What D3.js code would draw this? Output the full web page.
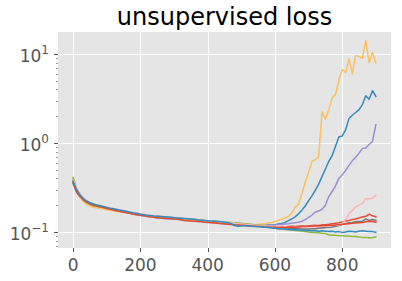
<!DOCTYPE html>
<html>
<head>
<meta charset="utf-8">
<script src="https://cdn.jsdelivr.net/npm/d3@7"></script>
<style>
  html, body { margin: 0; padding: 0; background: #fff; }
  svg { display: block; font-family: "DejaVu Sans", sans-serif; }
</style>
</head>
<body>
<div id="chart"></div>
<script>
// training step at which each value was logged
const steps = d3.range(0, 910, 10);

// unsupervised loss per run, one value per step
const red1 = [
  0.37, 0.29, 0.255, 0.232, 0.218, 0.208, 0.202, 0.197, 0.193, 0.189,
  0.185, 0.181, 0.178, 0.174, 0.171, 0.168, 0.166, 0.163, 0.160, 0.158,
  0.155, 0.153, 0.152, 0.150, 0.149, 0.148, 0.146, 0.145, 0.144, 0.143,
  0.142, 0.141, 0.139, 0.138, 0.137, 0.136, 0.135, 0.134, 0.132, 0.131,
  0.130, 0.129, 0.128, 0.127, 0.126, 0.126, 0.125, 0.124, 0.123, 0.122,
  0.121, 0.121, 0.120, 0.119, 0.118, 0.118, 0.117, 0.116, 0.116, 0.115,
  0.115, 0.114, 0.115, 0.114, 0.115, 0.116, 0.115, 0.116, 0.117, 0.116,
  0.117, 0.118, 0.119, 0.118, 0.120, 0.121, 0.122, 0.124, 0.125, 0.127,
  0.130, 0.133, 0.135, 0.138, 0.140, 0.144, 0.147, 0.150, 0.159, 0.152,
  0.148
];
const blue1 = [
  0.36, 0.29, 0.258, 0.236, 0.222, 0.212, 0.205, 0.200, 0.196, 0.192,
  0.188, 0.184, 0.181, 0.178, 0.175, 0.172, 0.169, 0.166, 0.163, 0.160,
  0.157, 0.155, 0.153, 0.152, 0.151, 0.150, 0.149, 0.147, 0.146, 0.145,
  0.144, 0.143, 0.142, 0.141, 0.140, 0.139, 0.137, 0.136, 0.135, 0.134,
  0.133, 0.132, 0.131, 0.130, 0.129, 0.128, 0.127, 0.126, 0.125, 0.124,
  0.123, 0.122, 0.121, 0.121, 0.120, 0.120, 0.119, 0.119, 0.120, 0.120,
  0.121, 0.123, 0.125, 0.128, 0.134, 0.140, 0.148, 0.160, 0.176, 0.196,
  0.225, 0.255, 0.295, 0.345, 0.42, 0.51, 0.62, 0.72, 0.92, 1.17,
  1.20, 1.40, 1.88, 2.05, 2.20, 2.37, 2.70, 3.40, 3.10, 3.87,
  3.34
];
const purple = [
  0.39, 0.30, 0.255, 0.228, 0.212, 0.202, 0.196, 0.192, 0.189, 0.186,
  0.183, 0.180, 0.177, 0.174, 0.171, 0.168, 0.165, 0.162, 0.158, 0.155,
  0.153, 0.151, 0.149, 0.147, 0.146, 0.144, 0.143, 0.142, 0.141, 0.141,
  0.140, 0.139, 0.138, 0.137, 0.136, 0.135, 0.134, 0.133, 0.132, 0.131,
  0.130, 0.129, 0.128, 0.127, 0.126, 0.125, 0.124, 0.123, 0.122, 0.121,
  0.121, 0.120, 0.119, 0.119, 0.118, 0.118, 0.117, 0.117, 0.118, 0.119,
  0.120, 0.121, 0.122, 0.123, 0.124, 0.126, 0.127, 0.129, 0.132, 0.138,
  0.146, 0.155, 0.168, 0.172, 0.180, 0.200, 0.250, 0.285, 0.33, 0.40,
  0.44, 0.49, 0.56, 0.63, 0.69, 0.77, 0.87, 0.88, 0.96, 1.04,
  1.61
];
const gray = [
  0.38, 0.30, 0.26, 0.236, 0.221, 0.211, 0.204, 0.199, 0.195, 0.191,
  0.187, 0.183, 0.180, 0.177, 0.174, 0.171, 0.168, 0.165, 0.162, 0.159,
  0.157, 0.155, 0.153, 0.151, 0.150, 0.149, 0.148, 0.146, 0.145, 0.144,
  0.143, 0.142, 0.141, 0.140, 0.139, 0.138, 0.136, 0.135, 0.134, 0.133,
  0.132, 0.131, 0.130, 0.129, 0.128, 0.127, 0.126, 0.125, 0.124, 0.123,
  0.122, 0.121, 0.120, 0.120, 0.119, 0.118, 0.117, 0.116, 0.115, 0.114,
  0.113, 0.112, 0.112, 0.111, 0.110, 0.110, 0.109, 0.109, 0.108, 0.108,
  0.108, 0.109, 0.109, 0.110, 0.111, 0.112, 0.113, 0.114, 0.116, 0.118,
  0.121, 0.124, 0.127, 0.128, 0.130, 0.131, 0.132, 0.140, 0.135, 0.138,
  0.135
];
const yellow = [
  0.40, 0.29, 0.245, 0.220, 0.205, 0.195, 0.190, 0.187, 0.184, 0.181,
  0.178, 0.176, 0.173, 0.171, 0.169, 0.167, 0.164, 0.162, 0.159, 0.157,
  0.155, 0.153, 0.151, 0.149, 0.147, 0.146, 0.145, 0.144, 0.143, 0.142,
  0.141, 0.140, 0.139, 0.138, 0.137, 0.136, 0.135, 0.134, 0.133, 0.132,
  0.131, 0.130, 0.129, 0.128, 0.127, 0.126, 0.126, 0.125, 0.124, 0.124,
  0.123, 0.122, 0.122, 0.121, 0.121, 0.122, 0.123, 0.124, 0.126, 0.128,
  0.131, 0.135, 0.139, 0.144, 0.150, 0.162, 0.190, 0.205, 0.27, 0.36,
  0.47, 0.62, 0.65, 0.70, 2.25, 1.85, 2.37, 3.2, 3.5, 5.1,
  6.7, 6.2, 8.8, 6.0, 9.6, 9.4, 8.9, 14.1, 8.0, 10.4,
  7.9
];
const green = [
  0.41, 0.31, 0.26, 0.232, 0.215, 0.205, 0.199, 0.195, 0.191, 0.188,
  0.185, 0.182, 0.179, 0.176, 0.173, 0.170, 0.167, 0.164, 0.161, 0.158,
  0.156, 0.154, 0.152, 0.151, 0.150, 0.149, 0.148, 0.147, 0.146, 0.145,
  0.144, 0.143, 0.142, 0.141, 0.140, 0.139, 0.138, 0.137, 0.136, 0.135,
  0.134, 0.133, 0.132, 0.131, 0.130, 0.129, 0.129, 0.128, 0.127, 0.126,
  0.125, 0.124, 0.123, 0.122, 0.121, 0.120, 0.118, 0.116, 0.114, 0.112,
  0.110, 0.109, 0.108, 0.107, 0.106, 0.105, 0.104, 0.103, 0.102, 0.101,
  0.100, 0.099, 0.099, 0.098, 0.097, 0.096, 0.093, 0.092, 0.092, 0.091,
  0.091, 0.090, 0.090, 0.089, 0.089, 0.088, 0.087, 0.087, 0.086, 0.086,
  0.088
];
const pink = [
  0.38, 0.31, 0.27, 0.243, 0.226, 0.214, 0.207, 0.202, 0.198, 0.194,
  0.190, 0.186, 0.183, 0.180, 0.177, 0.174, 0.171, 0.168, 0.165, 0.162,
  0.160, 0.158, 0.156, 0.154, 0.153, 0.151, 0.150, 0.149, 0.148, 0.147,
  0.146, 0.145, 0.144, 0.143, 0.142, 0.141, 0.139, 0.138, 0.137, 0.135,
  0.134, 0.133, 0.131, 0.130, 0.129, 0.128, 0.127, 0.126, 0.125, 0.124,
  0.123, 0.122, 0.121, 0.120, 0.119, 0.118, 0.117, 0.117, 0.116, 0.116,
  0.115, 0.115, 0.114, 0.114, 0.113, 0.113, 0.114, 0.113, 0.114, 0.115,
  0.114, 0.115, 0.116, 0.115, 0.116, 0.117, 0.117, 0.118, 0.119, 0.120,
  0.123, 0.138, 0.160, 0.175, 0.192, 0.200, 0.210, 0.236, 0.237, 0.240,
  0.258
];
const red2 = [
  0.35, 0.28, 0.25, 0.230, 0.217, 0.207, 0.201, 0.196, 0.192, 0.188,
  0.184, 0.180, 0.176, 0.173, 0.170, 0.167, 0.164, 0.161, 0.158, 0.156,
  0.154, 0.152, 0.150, 0.148, 0.146, 0.145, 0.144, 0.143, 0.142, 0.141,
  0.140, 0.139, 0.137, 0.135, 0.134, 0.133, 0.132, 0.131, 0.130, 0.129,
  0.128, 0.127, 0.126, 0.125, 0.124, 0.123, 0.122, 0.121, 0.120, 0.120,
  0.119, 0.118, 0.117, 0.116, 0.116, 0.115, 0.115, 0.114, 0.114, 0.113,
  0.113, 0.112, 0.113, 0.112, 0.113, 0.114, 0.113, 0.114, 0.115, 0.115,
  0.116, 0.116, 0.117, 0.117, 0.118, 0.118, 0.119, 0.119, 0.120, 0.121,
  0.122, 0.123, 0.124, 0.125, 0.126, 0.127, 0.128, 0.130, 0.132, 0.131,
  0.129
];
const blue2 = [
  0.37, 0.30, 0.262, 0.238, 0.223, 0.213, 0.206, 0.201, 0.197, 0.193,
  0.189, 0.185, 0.182, 0.179, 0.176, 0.173, 0.170, 0.167, 0.164, 0.161,
  0.158, 0.156, 0.154, 0.153, 0.151, 0.150, 0.149, 0.148, 0.147, 0.146,
  0.145, 0.144, 0.143, 0.142, 0.141, 0.140, 0.139, 0.137, 0.136, 0.135,
  0.134, 0.133, 0.132, 0.131, 0.130, 0.129, 0.127, 0.124, 0.118, 0.116,
  0.117, 0.118, 0.117, 0.116, 0.115, 0.115, 0.114, 0.113, 0.112, 0.111,
  0.110, 0.109, 0.108, 0.108, 0.107, 0.106, 0.106, 0.105, 0.105, 0.104,
  0.104, 0.103, 0.103, 0.102, 0.103, 0.102, 0.101, 0.102, 0.100, 0.101,
  0.099, 0.100, 0.102, 0.101, 0.100, 0.102, 0.103, 0.102, 0.101, 0.101,
  0.099
];

// drawing order follows the ggplot colour cycle
const runs = [red1, blue1, purple, gray, yellow, green, pink, red2, blue2];
const colors = ['#E24A33', '#348ABD', '#988ED5', '#777777', '#FBC15E', '#8EBA42', '#FFB5B8', '#E24A33', '#348ABD'];
const xTicks = [0, 200, 400, 600, 800];
const yTicks = [0.1, 1, 10];
const yExps = ['\u22121', '0', '1'];

const W = 402, H = 281;
const plot = { left: 58, right: 391, top: 32, bottom: 248 };

const svg = d3.select('#chart').append('svg')
  .attr('width', W)
  .attr('height', H);

const x = d3.scaleLinear().domain([-45, 945]).range([plot.left, plot.right]);
const y = d3.scaleLog().domain([0.0661, 17.66]).range([plot.bottom, plot.top]);

// panel background
svg.append('rect')
  .attr('x', plot.left).attr('y', plot.top)
  .attr('width', plot.right - plot.left)
  .attr('height', plot.bottom - plot.top)
  .attr('fill', '#E5E5E5');

// grid
const grid = svg.append('g').attr('stroke', '#fff').attr('stroke-width', 1.1);
grid.selectAll('line.gx').data(xTicks).join('line')
  .attr('x1', (d) => Math.round(x(d)) + 0.5).attr('x2', (d) => Math.round(x(d)) + 0.5)
  .attr('y1', plot.top).attr('y2', plot.bottom);
grid.selectAll('line.gy').data(yTicks).join('line')
  .attr('y1', (d) => Math.round(y(d)) + 0.5).attr('y2', (d) => Math.round(y(d)) + 0.5)
  .attr('x1', plot.left).attr('x2', plot.right);

// lines
const clip = svg.append('clipPath').attr('id', 'clip').append('rect')
  .attr('x', plot.left).attr('y', plot.top)
  .attr('width', plot.right - plot.left).attr('height', plot.bottom - plot.top);

const line = d3.line()
  .x((d, i) => x(steps[i]))
  .y((d) => y(d));

svg.append('g').attr('clip-path', 'url(#clip)')
  .selectAll('path')
  .data(runs)
  .join('path')
  .attr('d', line)
  .attr('fill', 'none')
  .attr('stroke', (d, i) => colors[i])
  .attr('stroke-width', 1.5)
  .attr('stroke-linejoin', 'round')
  .attr('stroke-linecap', 'square');

// x axis ticks
const axisColor = '#555555';
const xa = svg.append('g');
xa.selectAll('line').data(xTicks).join('line')
  .attr('x1', (d) => Math.round(x(d)) + 0.5).attr('x2', (d) => Math.round(x(d)) + 0.5)
  .attr('y1', plot.bottom).attr('y2', plot.bottom + 4)
  .attr('stroke', axisColor).attr('stroke-width', 1);
xa.selectAll('text').data(xTicks).join('text')
  .attr('x', (d) => x(d)).attr('y', 271)
  .attr('text-anchor', 'middle')
  .attr('font-size', 17)
  .attr('fill', axisColor)
  .text((d) => d);

// y axis ticks (log, with minors)
const ya = svg.append('g');
const minors = [];
[0.01, 0.1, 1, 10].forEach((dec) => {
  for (let k = 2; k <= 9; k++) {
    const v = dec * k;
    if (v >= y.domain()[0] && v <= y.domain()[1]) minors.push(v);
  }
});
ya.selectAll('line.minor').data(minors).join('line')
  .attr('class', 'minor')
  .attr('x1', plot.left - 2).attr('x2', plot.left)
  .attr('y1', (d) => Math.round(y(d)) + 0.5).attr('y2', (d) => Math.round(y(d)) + 0.5)
  .attr('stroke', axisColor).attr('stroke-width', 0.6);
ya.selectAll('line.major').data(yTicks).join('line')
  .attr('class', 'major')
  .attr('x1', plot.left - 4).attr('x2', plot.left)
  .attr('y1', (d) => Math.round(y(d)) + 0.5).attr('y2', (d) => Math.round(y(d)) + 0.5)
  .attr('stroke', axisColor).attr('stroke-width', 1);
const yl = ya.selectAll('text').data(yTicks).join('text')
  .attr('x', 49).attr('y', (d) => y(d) + 8)
  .attr('text-anchor', 'end')
  .attr('font-size', 17)
  .attr('fill', axisColor);
yl.append('tspan').text('10');
yl.append('tspan')
  .attr('dy', -8)
  .attr('font-size', 12)
  .text((d, i) => yExps[i]);

// title
svg.append('text')
  .attr('x', (plot.left + plot.right) / 2)
  .attr('y', 25)
  .attr('text-anchor', 'middle')
  .attr('font-size', 24)
  .attr('fill', '#000')
  .text('unsupervised loss');
</script>
</body>
</html>
